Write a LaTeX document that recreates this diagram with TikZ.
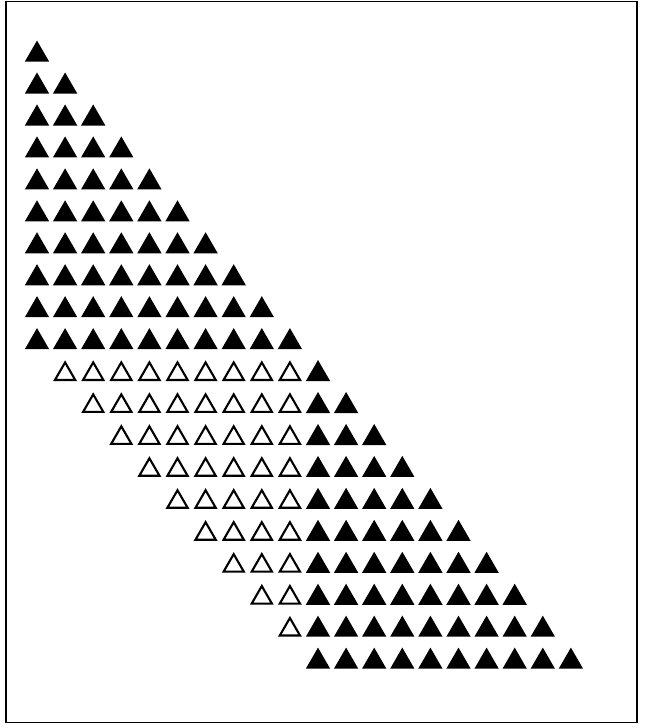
\documentclass[tikz,border=0pt]{standalone}
\usetikzlibrary{shapes.geometric}

\begin{document}
\begin{tikzpicture}[x=0.02cm, y=-0.02cm,
  solidtri/.style={regular polygon, regular polygon sides=3, fill=black, inner sep=0pt, outer sep=0pt, minimum size=16pt},
  opentri/.style={regular polygon, regular polygon sides=3, draw=black, line width=1.2pt, fill=white, inner sep=0pt, outer sep=0pt, minimum size=13.3pt}]
  \useasboundingbox (0,0) rectangle (646,727);
  \draw[line width=1.1pt] (6,1.5) rectangle (637,722.5);
  % upper staircase: row r holds r solid triangles
  \foreach \r in {1,...,10}
    \foreach \c in {1,...,\r}
      \node[solidtri] (tri-\r-\c) at ({37+(\c-1)*28.1},{54.6+(\r-1)*31.95}) {};
  % lower block, open part: row 10+k, columns k+1..10
  \foreach \k [evaluate=\k as \s using int(\k+1), evaluate=\k as \r using int(10+\k)] in {1,...,9}
    \foreach \c in {\s,...,10}
      \node[opentri] (tri-\r-\c) at ({37+(\c-1)*28.1},{54.6+(\r-1)*31.95}) {};
  % lower block, solid part: row 10+k, columns 11..10+k
  \foreach \k [evaluate=\k as \r using int(10+\k)] in {1,...,10}
    \foreach \c in {11,...,\r}
      \node[solidtri] (tri-\r-\c) at ({37+(\c-1)*28.1},{54.6+(\r-1)*31.95}) {};
\end{tikzpicture}
\end{document}
